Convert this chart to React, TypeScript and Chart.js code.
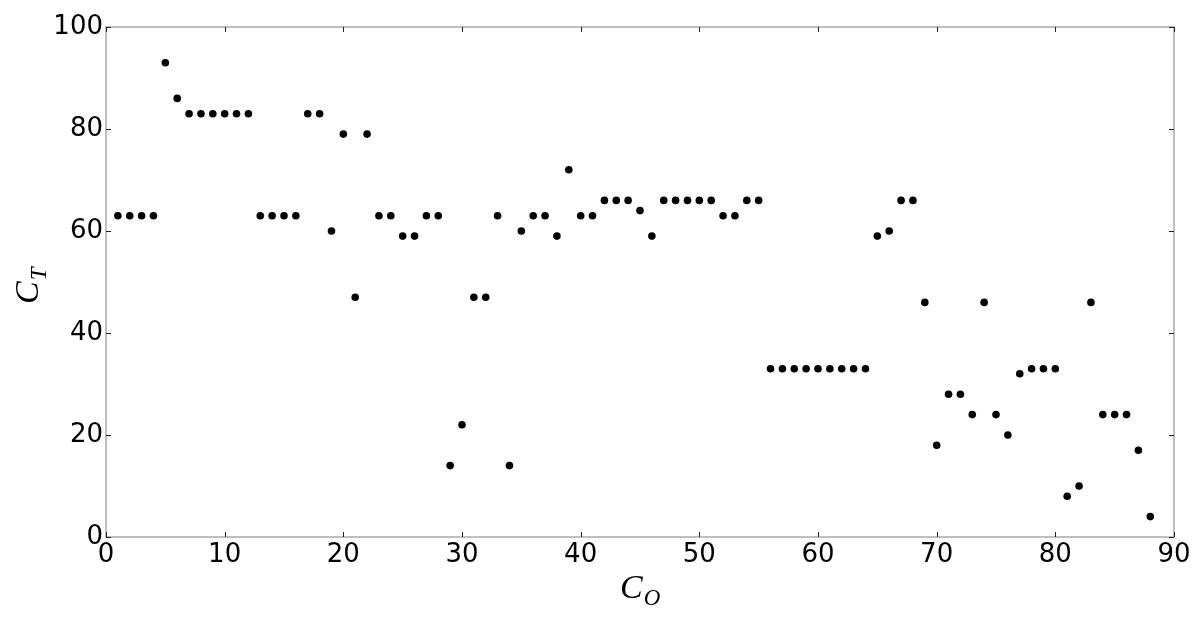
import React, { useEffect, useRef } from "react";
import { Chart, registerables } from "chart.js";

Chart.register(...registerables);

const coValues = [
  1, 2, 3, 4, 5, 6, 7, 8, 9, 10, 11, 12, 13, 14, 15, 16, 17, 18, 19, 20, 21, 22,
  23, 24, 25, 26, 27, 28, 29, 30, 31, 32, 33, 34, 35, 36, 37, 38, 39, 40, 41, 42,
  43, 44, 45, 46, 47, 48, 49, 50, 51, 52, 53, 54, 55, 56, 57, 58, 59, 60, 61, 62,
  63, 64, 65, 66, 67, 68, 69, 70, 71, 72, 73, 74, 75, 76, 77, 78, 79, 80, 81, 82,
  83, 84, 85, 86, 87, 88,
];

const ctValues = [
  63, 63, 63, 63, 93, 86, 83, 83, 83, 83, 83, 83, 63, 63, 63, 63, 83, 83, 60, 79,
  47, 79, 63, 63, 59, 59, 63, 63, 14, 22, 47, 47, 63, 14, 60, 63, 63, 59, 72, 63,
  63, 66, 66, 66, 64, 59, 66, 66, 66, 66, 66, 63, 63, 66, 66, 33, 33, 33, 33, 33,
  33, 33, 33, 33, 59, 60, 66, 66, 46, 18, 28, 28, 24, 46, 24, 20, 32, 33, 33, 33,
  8, 10, 46, 24, 24, 24, 17, 4,
];

const xTicks = [0, 10, 20, 30, 40, 50, 60, 70, 80, 90];
const yTicks = [0, 20, 40, 60, 80, 100];

const xTitleMain = "C";
const xTitleSub = "O";
const yTitleMain = "C";
const yTitleSub = "T";

const framePlugin = {
  id: "frameTicks",
  beforeDatasetsDraw(chart: any) {
    const { ctx, chartArea } = chart;
    const { left, right, top, bottom } = chartArea;
    const xs = chart.scales.x;
    const ys = chart.scales.y;
    ctx.save();
    ctx.strokeStyle = "#bfbfbf";
    ctx.lineWidth = 2;
    ctx.strokeRect(left, top, right - left, bottom - top);
    ctx.strokeStyle = "#222";
    ctx.lineWidth = 1;
    const tl = 5;
    ctx.beginPath();
    xTicks.forEach((v) => {
      const px = Math.round(xs.getPixelForValue(v)) + 0.5;
      ctx.moveTo(px, bottom);
      ctx.lineTo(px, bottom - tl);
      ctx.moveTo(px, top);
      ctx.lineTo(px, top + tl);
    });
    yTicks.forEach((v) => {
      const py = Math.round(ys.getPixelForValue(v)) + 0.5;
      ctx.moveTo(left, py);
      ctx.lineTo(left + tl, py);
      ctx.moveTo(right, py);
      ctx.lineTo(right - tl, py);
    });
    ctx.stroke();
    ctx.restore();
  },
  afterDraw(chart: any) {
    const { ctx } = chart;
    ctx.save();
    ctx.fillStyle = "#000";
    ctx.textAlign = "left";
    ctx.textBaseline = "alphabetic";
    const mainFont = 'italic 34px "Liberation Serif"';
    const subFont = 'italic 23px "Liberation Serif"';
    // x title
    ctx.font = mainFont;
    const wC = ctx.measureText(xTitleMain).width;
    const startX = 620;
    ctx.fillText(xTitleMain, startX, 598);
    ctx.font = subFont;
    ctx.fillText(xTitleSub, startX + wC + 1, 605);
    // y title
    ctx.translate(38, 304);
    ctx.rotate(-Math.PI / 2);
    ctx.font = mainFont;
    const wCy = ctx.measureText(yTitleMain).width;
    ctx.fillText(yTitleMain, 0, 0);
    ctx.font = subFont;
    ctx.fillText(yTitleSub, wCy + 1, 8);
    ctx.restore();
  },
};

export default function App() {
  const ref = useRef<HTMLCanvasElement | null>(null);
  useEffect(() => {
    if (!ref.current) return;
    const chart = new Chart(ref.current, {
      type: "scatter",
      data: {
        datasets: [
          {
            data: coValues.map((x, i) => ({ x, y: ctValues[i] })),
            backgroundColor: "#000",
            borderColor: "#000",
            pointRadius: 3.8,
            pointBorderWidth: 0,
          },
        ],
      },
      options: {
        responsive: false,
        animation: false,
        layout: { padding: { top: 27, right: 26, left: 0, bottom: 0 } },
        plugins: {
          legend: { display: false },
          tooltip: { enabled: false },
          title: { display: false },
        },
        scales: {
          x: {
            type: "linear",
            min: 0,
            max: 90,
            afterBuildTicks: (s: any) => {
              s.ticks = xTicks.map((v) => ({ value: v }));
            },
            afterFit: (s: any) => {
              s.height = 82;
            },
            ticks: {
              color: "#000",
              padding: 3,
              maxRotation: 0,
              autoSkip: false,
              font: { family: '"DejaVu Sans"', size: 26 },
            },
            grid: { display: false, drawTicks: false },
            border: { display: false },
          },
          y: {
            type: "linear",
            min: 0,
            max: 100,
            afterBuildTicks: (s: any) => {
              s.ticks = yTicks.map((v) => ({ value: v }));
            },
            afterFit: (s: any) => {
              s.width = 106;
            },
            ticks: {
              color: "#000",
              padding: 3,
              autoSkip: false,
              font: { family: '"DejaVu Sans"', size: 26 },
            },
            grid: { display: false, drawTicks: false },
            border: { display: false },
          },
        },
      },
      plugins: [framePlugin],
    });
    return () => chart.destroy();
  }, []);
  return (
    <div
      style={{
        position: "fixed",
        left: 0,
        top: 0,
        width: 1200,
        height: 619,
        background: "#fff",
      }}
    >
      <canvas ref={ref} width={1200} height={619} style={{ display: "block" }} />
    </div>
  );
}
